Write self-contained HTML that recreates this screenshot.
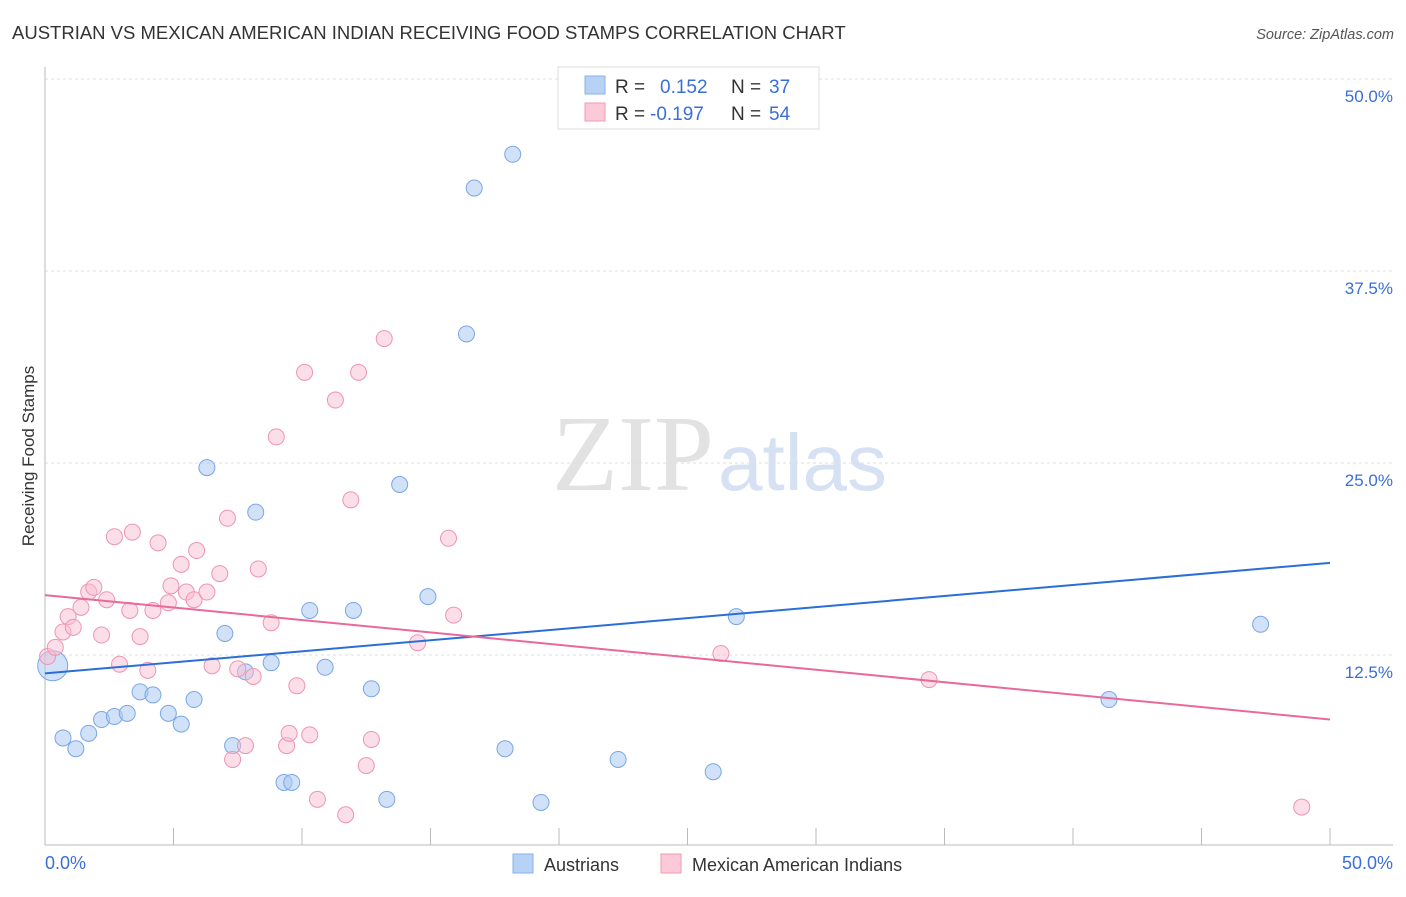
<!DOCTYPE html>
<html><head><meta charset="utf-8"><style>
body{margin:0;background:#fff;font-family:"Liberation Sans",sans-serif;}
</style></head><body>
<svg id="chart" width="1406" height="892" xmlns="http://www.w3.org/2000/svg">
<text x="12" y="39" font-size="18.5" fill="#333">AUSTRIAN VS MEXICAN AMERICAN INDIAN RECEIVING FOOD STAMPS CORRELATION CHART</text>
<text x="1394" y="39" font-size="14.5" fill="#555" font-style="italic" text-anchor="end">Source: ZipAtlas.com</text>
<text x="714" y="490" font-size="108" fill="#e2e2e2" text-anchor="end" font-family="Liberation Serif,serif">ZIP</text>
<text x="718" y="490" font-size="80" fill="#d6e2f3">atlas</text>
<g id="grid"></g><g id="axes"></g><g id="pts"></g><g id="lines"></g>
<text transform="translate(34,456) rotate(-90)" font-size="17" fill="#333" text-anchor="middle">Receiving Food Stamps</text>
<text x="45" y="869" font-size="18" fill="#3a6fd8">0.0%</text>
<text x="1393" y="869" font-size="18" fill="#3a6fd8" text-anchor="end">50.0%</text>
<g>
<rect x="558" y="67" width="261" height="62" fill="#fff" stroke="#ddd"/>
<rect x="585" y="76" width="20" height="18" fill="#b8d2f5" stroke="#8ab0e8"/>
<rect x="585" y="103" width="20" height="18" fill="#fbc9d8" stroke="#f19ab5"/>
<text x="615" y="93" font-size="19" fill="#333">R = </text><text x="660" y="93" font-size="19" fill="#3a6fd8">0.152</text>
<text x="731" y="93" font-size="19" fill="#333">N = </text><text x="769" y="93" font-size="19" fill="#3a6fd8">37</text>
<text x="615" y="120" font-size="19" fill="#333">R = </text><text x="650" y="120" font-size="19" fill="#3a6fd8">-0.197</text>
<text x="731" y="120" font-size="19" fill="#333">N = </text><text x="769" y="120" font-size="19" fill="#3a6fd8">54</text>
</g>
<g><rect x="513" y="854" width="20" height="19" fill="#b8d2f5" stroke="#8ab0e8"/><text x="544" y="871" font-size="18" fill="#333">Austrians</text></g>
<g><rect x="661" y="854" width="20" height="19" fill="#fbc9d8" stroke="#f19ab5"/><text x="692" y="871" font-size="18" fill="#333">Mexican American Indians</text></g>
</svg>
<script>
const yTicks=[12.5,25,37.5,50];
const xTicks=[5,10,15,20,25,30,35,40,45,50];
const blueX=[0.3,0.7,1.2,1.7,2.2,2.7,3.2,3.7,4.2,4.8,5.3,5.8,6.3,7.0,7.3,7.8,8.2,8.8,9.3,9.6,10.3,10.9,12.0,12.7,13.3,13.8,14.9,16.4,16.7,17.9,18.2,19.3,22.3,26.0,26.9,41.4,47.3];
const blueY=[11.8,7.1,6.4,7.4,8.3,8.5,8.7,10.1,9.9,8.7,8.0,9.6,24.7,13.9,6.6,11.4,21.8,12.0,4.2,4.2,15.4,11.7,15.4,10.3,3.1,23.6,16.3,33.4,42.9,6.4,45.1,2.9,5.7,4.9,15.0,9.6,14.5];
const pinkX=[0.1,0.4,0.7,0.9,1.1,1.4,1.7,1.9,2.2,2.4,2.7,2.9,3.3,3.4,3.7,4.0,4.2,4.4,4.8,4.9,5.3,5.5,5.8,5.9,6.3,6.5,6.8,7.1,7.3,7.5,7.8,8.1,8.3,8.8,9.0,9.4,9.5,9.8,10.1,10.3,10.6,11.3,11.7,11.9,12.2,12.5,12.7,13.2,14.5,15.7,15.9,26.3,34.4,48.9];
const pinkY=[12.4,13.0,14.0,15.0,14.3,15.6,16.6,16.9,13.8,16.1,20.2,11.9,15.4,20.5,13.7,11.5,15.4,19.8,15.9,17.0,18.4,16.6,16.1,19.3,16.6,11.8,17.8,21.4,5.7,11.6,6.6,11.1,18.1,14.6,26.7,6.6,7.4,10.5,30.9,7.3,3.1,29.1,2.1,22.6,30.9,5.3,7.0,33.1,13.3,20.1,15.1,12.6,10.9,2.6];
const blueTrend=[11.3,18.5];
const pinkTrend=[16.4,8.3];
const X=v=>45+v*25.7, Y=v=>847-v*15.36;
const NS="http://www.w3.org/2000/svg";
function mk(p,tag,a){const e=document.createElementNS(NS,tag);for(const k in a)e.setAttribute(k,a[k]);document.getElementById(p).appendChild(e);return e;}
yTicks.forEach(t=>{
 const l=mk('grid','line',{x1:45,x2:1393,y1:Y(t),y2:Y(t),stroke:'#ddd','stroke-dasharray':'3,3'});
 
 
 const tx=mk('grid','text',{x:1393,y:Y(t)+23,'font-size':17,fill:'#3a6fd8','text-anchor':'end'});
 tx.textContent=t.toFixed(1)+'%';
 
 
});
const ya=mk('axes','line',{x1:45,x2:45,y1:67,y2:845,stroke:'#bbb'});


const xa=mk('axes','line',{x1:45,x2:1393,y1:845,y2:845,stroke:'#bbb'});


xTicks.forEach(t=>{
 const l=mk('axes','line',{x1:X(t),x2:X(t),y1:828,y2:845,stroke:'#bbb'});
 
 
});
blueX.forEach((v,i)=>{
 const c=mk('pts','circle',{cx:X(v),cy:Y(blueY[i]),r:i==0?15:8,fill:'rgba(170,200,242,0.55)',stroke:'#7aa6e6','stroke-width':1});
 
 
});
pinkX.forEach((v,i)=>{
 const c=mk('pts','circle',{cx:X(v),cy:Y(pinkY[i]),r:8,fill:'rgba(248,190,208,0.5)',stroke:'#ee94b2','stroke-width':1});
 
 
});
const bl=mk('lines','line',{x1:X(0),x2:X(50),y1:Y(blueTrend[0]),y2:Y(blueTrend[1]),stroke:'#2a6fd6','stroke-width':2});


const pl=mk('lines','line',{x1:X(0),x2:X(50),y1:Y(pinkTrend[0]),y2:Y(pinkTrend[1]),stroke:'#e8699a','stroke-width':2});


</script>
</body></html>
